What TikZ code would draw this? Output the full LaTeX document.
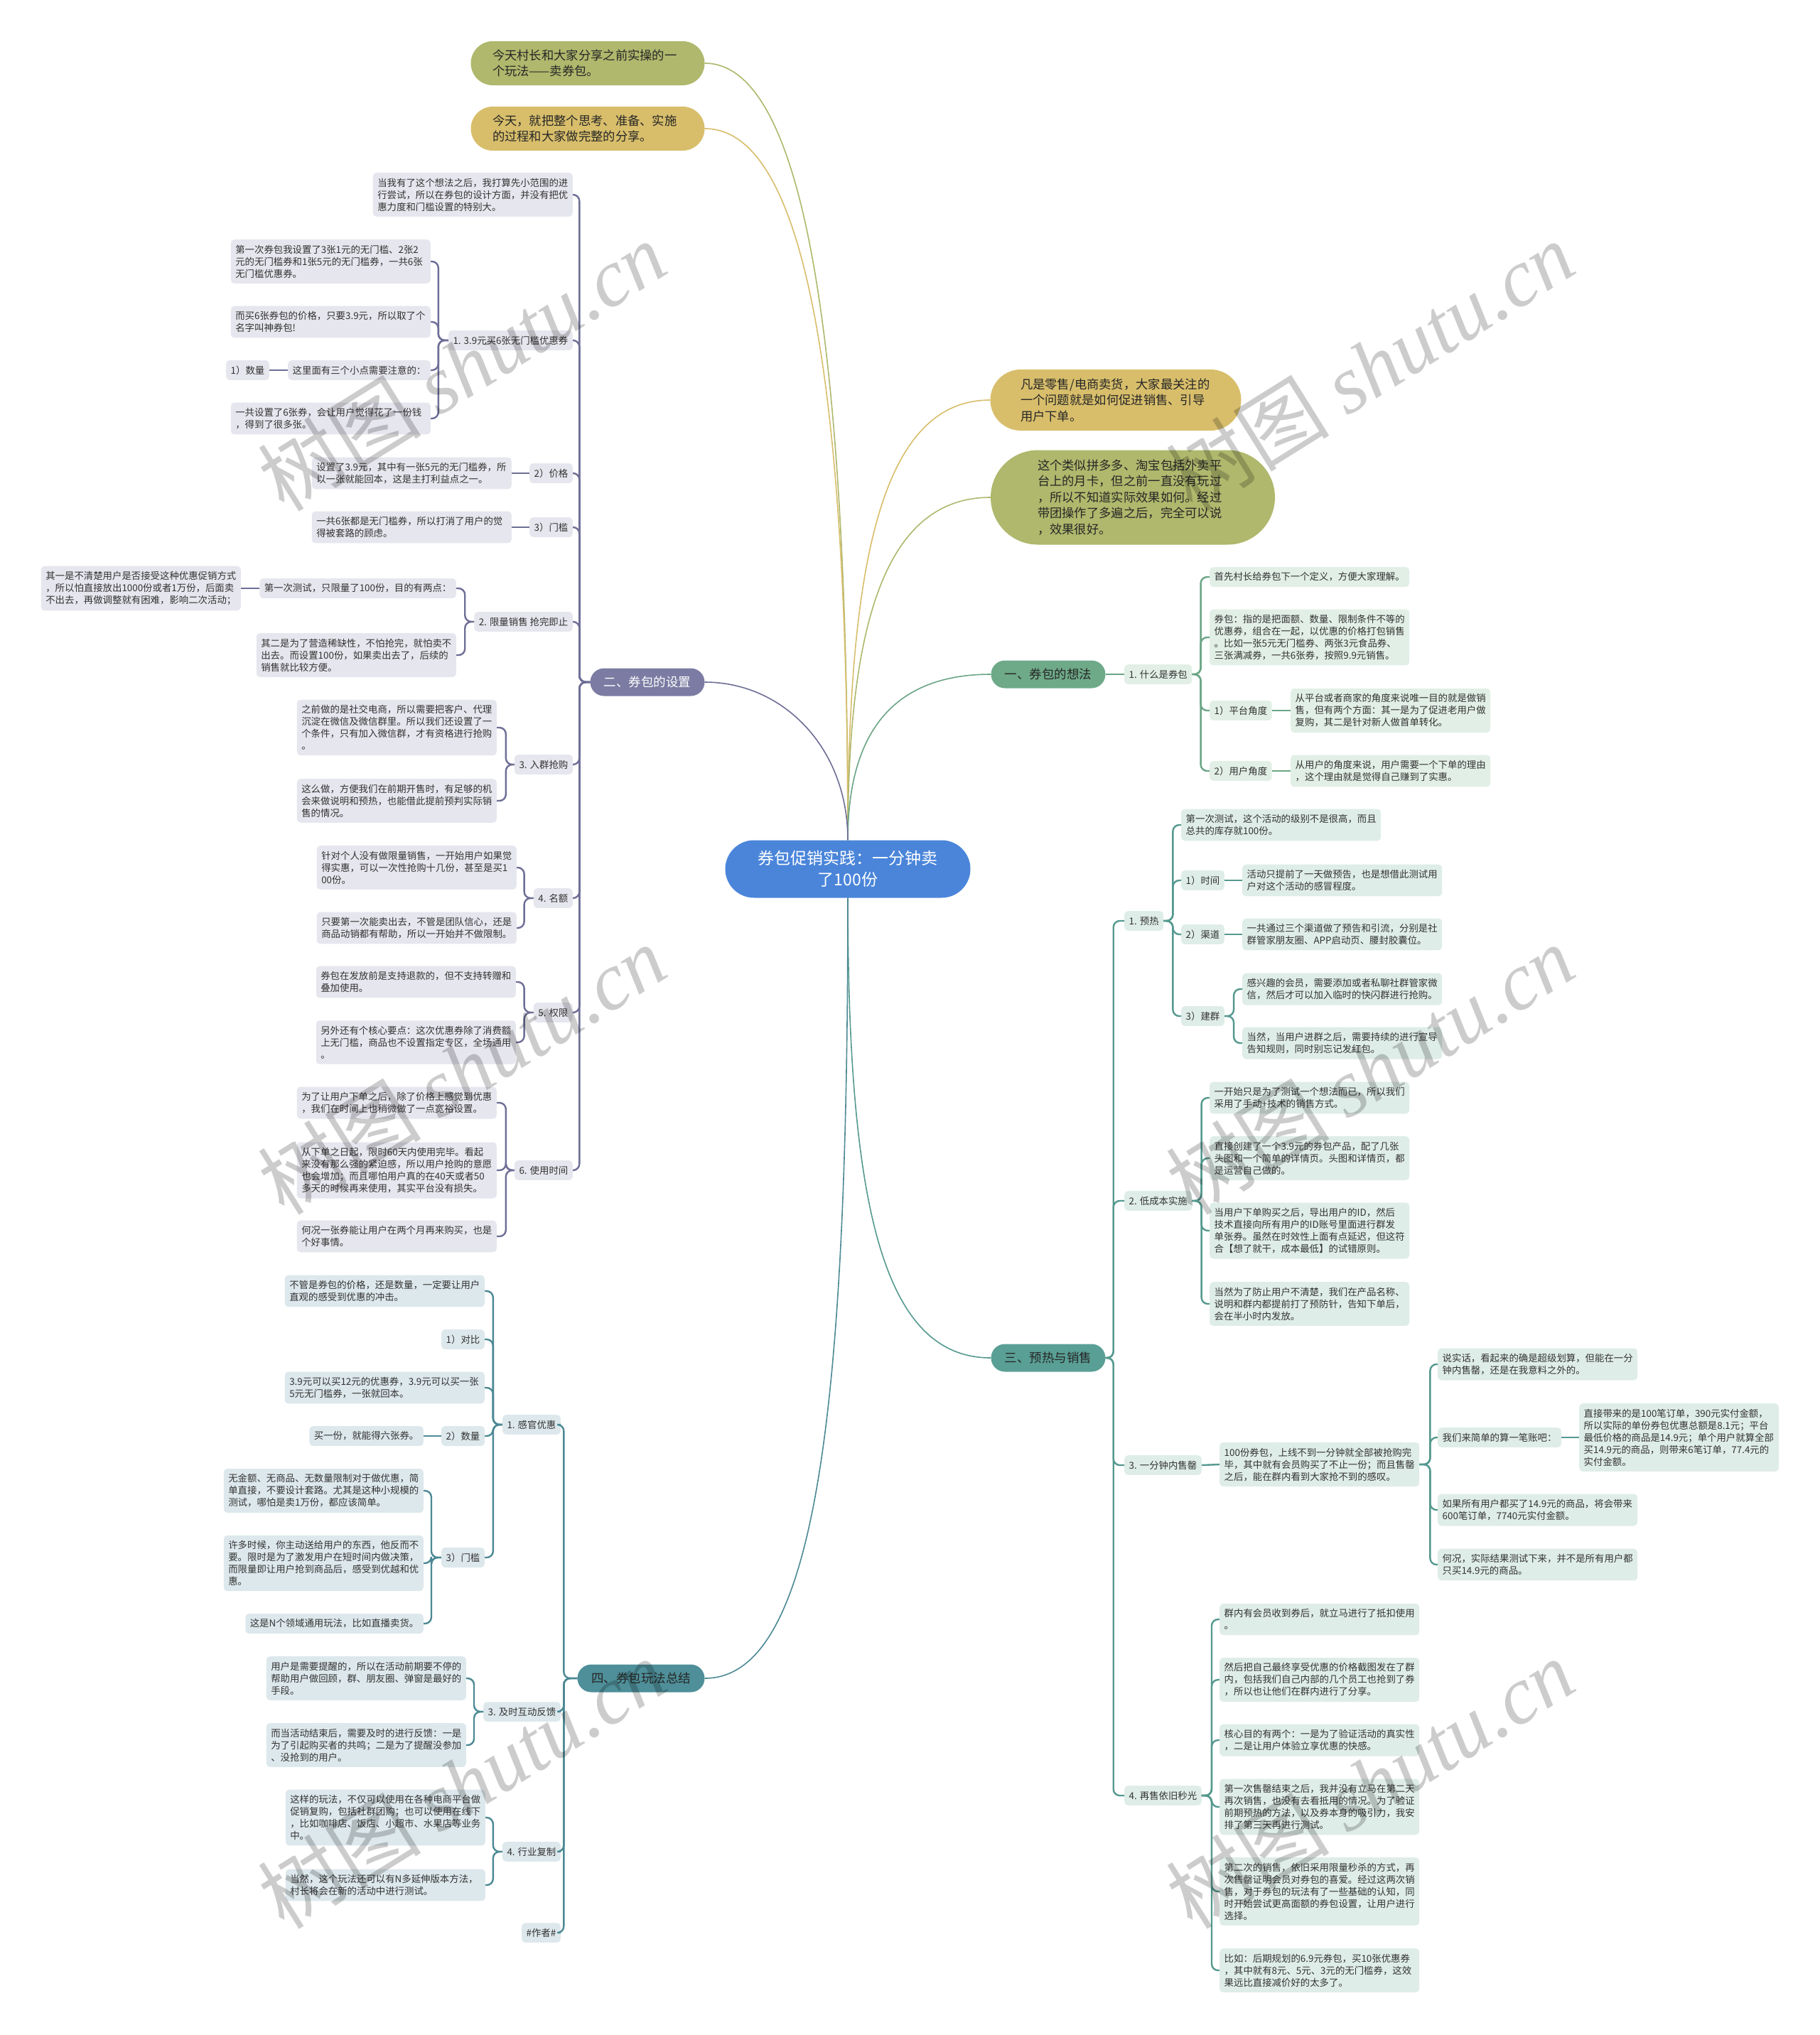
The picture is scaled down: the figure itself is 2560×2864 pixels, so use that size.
\documentclass[tikz,border=0pt]{standalone}
\usepackage{fontspec}
\usepackage{tikz}
\usetikzlibrary{shapes.misc}
\newfontfamily\cjk{Noto Sans CJK SC}
\newfontfamily\wmlatin{Liberation Serif}
\definecolor{cRoot}{HTML}{4A85DA}
\definecolor{cOlive}{HTML}{AFB86C}
\definecolor{cOchre}{HTML}{D8BE6B}
\definecolor{cIdea}{HTML}{6EAA88}
\definecolor{cSet}{HTML}{7B7BA3}
\definecolor{cSale}{HTML}{5A9F95}
\definecolor{cSum}{HTML}{4E8F99}
\definecolor{lIdea}{HTML}{E2EFE7}
\definecolor{lSet}{HTML}{E6E6EE}
\definecolor{lSale}{HTML}{DFEDE9}
\definecolor{lSum}{HTML}{DDE8EC}
\definecolor{dIdea}{HTML}{6AA585}
\definecolor{dSet}{HTML}{6E6E96}
\definecolor{dSale}{HTML}{55998F}
\definecolor{dSum}{HTML}{4C8994}
\tikzset{
  leafnode/.style   = {rounded corners=5pt, inner xsep=6.5pt, inner ysep=7.6pt,
                       font=\cjk\fontsize{13.4}{17}\selectfont, text=black!80},
  textnode/.style   = {leafnode, text width=268pt, align=left},
  bubblenode/.style = {rounded rectangle, inner xsep=1pt, text width=268pt, align=left,
                       font=\cjk\fontsize{17.3}{22.5}\selectfont, text=black!85},
  mainnode/.style   = {rounded rectangle, inner xsep=0pt, minimum height=39pt,
                       minimum width=161pt,
                       font=\cjk\fontsize{17.5}{20}\selectfont, text=black!85},
  rootnode/.style   = {rounded rectangle, fill=cRoot, inner xsep=9.5pt, minimum height=81pt,
                       minimum width=364pt, text width=253pt, align=center, text=white,
                       font=\cjk\fontsize{23}{30}\selectfont},
  wmnode/.style     = {rotate=32, text=black, text opacity=0.2,
                       font=\cjk\fontsize{115}{115}\selectfont},
  curveline/.style  = {line width=1.6pt},
  bracket/.style    = {line width=2.4pt, rounded corners=9pt},
  setbox/.style     = {fill=lSet},
  sumbox/.style     = {fill=lSum},
  ideabox/.style    = {fill=lIdea},
  salebox/.style    = {fill=lSale},
}
\begin{document}
\begin{tikzpicture}[x=1pt, y=-1pt]
  \fill[white] (0,0) rectangle (2560,2864);
  \useasboundingbox (0,0) rectangle (2560,2864);

  % centre and first level
  \node[rootnode] (root) at (1193,1223) {券包促销实践：一分钟卖\\了100份};
  \node[bubblenode, fill=cOlive, minimum height=62pt, minimum width=331pt] (t1) at (827,89)
    {今天村长和大家分享之前实操的一\\个玩法——卖券包。};
  \node[bubblenode, fill=cOchre, minimum height=62pt, minimum width=331pt] (t2) at (827,181)
    {今天，就把整个思考、准备、实施\\的过程和大家做完整的分享。};
  \node[bubblenode, fill=cOchre, minimum height=86pt, minimum width=355pt] (r1) at (1570,563)
    {凡是零售/电商卖货，大家最关注的\\一个问题就是如何促进销售、引导\\用户下单。};
  \node[bubblenode, fill=cOlive, minimum height=133pt, minimum width=402pt] (r2) at (1594,700)
    {这个类似拼多多、淘宝包括外卖平\\台上的月卡，但之前一直没有玩过\\，所以不知道实际效果如何。经过\\带团操作了多遍之后，完全可以说\\，效果很好。};
  \node[mainnode, fill=cIdea] (b1) at (1475,949) {一、券包的想法};
  \node[mainnode, fill=cSet, text=white] (b2) at (911,960) {二、券包的设置};
  \node[mainnode, fill=cSale] (b3) at (1475,1911) {三、预热与销售};
  \node[mainnode, fill=cSum, minimum width=179pt] (b4) at (902,2362) {四、券包玩法总结};

  \draw[curveline, cOlive] (root.north) .. controls +(0,-700) and +(140,0) .. (t1.east);
  \draw[curveline, cOchre] (root.north) .. controls +(0,-650) and +(140,0) .. (t2.east);
  \draw[curveline, cOchre] (root.north) .. controls +(0,-400) and +(-150,0) .. (r1.west);
  \draw[curveline, cOlive] (root.north) .. controls +(0,-300) and +(-150,0) .. (r2.west);
  \draw[curveline, dIdea] (root.north) .. controls +(0,-160) and +(-130,0) .. (b1.west);
  \draw[curveline, dSet]  (root.north) .. controls +(0,-130) and +(110,0) .. (b2.east);
  \draw[curveline, dSale] (root.south) .. controls +(0,440) and +(-150,0) .. (b3.west);
  \draw[curveline, dSum]  (root.south) .. controls +(0,700) and +(160,0) .. (b4.east);

  % 二、券包的设置
  \node[textnode, setbox, anchor=east] (p0) at (806,274)
    {当我有了这个想法之后，我打算先小范围的进\\行尝试，所以在券包的设计方面，并没有把优\\惠力度和门槛设置的特别大。};
  \node[leafnode, setbox, anchor=east] (p1) at (806,479) {1. 3.9元买6张无门槛优惠券};
  \node[textnode, setbox, anchor=east] (p1a) at (606,368)
    {第一次券包我设置了3张1元的无门槛、2张2\\元的无门槛券和1张5元的无门槛券，一共6张\\无门槛优惠券。};
  \node[textnode, setbox, anchor=east] (p1b) at (606,453)
    {而买6张券包的价格，只要3.9元，所以取了个\\名字叫神券包!};
  \node[leafnode, setbox, anchor=east] (p1c) at (606,521) {这里面有三个小点需要注意的：};
  \node[leafnode, setbox, anchor=east] (p1c1) at (379,521) {1）数量};
  \node[textnode, setbox, anchor=east] (p1d) at (606,589)
    {一共设置了6张券，会让用户觉得花了一份钱\\，得到了很多张。};
  \node[leafnode, setbox, anchor=east] (p2) at (806,666) {2）价格};
  \node[textnode, setbox, anchor=east] (p2a) at (720,666)
    {设置了3.9元，其中有一张5元的无门槛券，所\\以一张就能回本，这是主打利益点之一。};
  \node[leafnode, setbox, anchor=east] (p3) at (806,742) {3）门槛};
  \node[textnode, setbox, anchor=east] (p3a) at (720,742)
    {一共6张都是无门槛券，所以打消了用户的觉\\得被套路的顾虑。};
  \node[leafnode, setbox, anchor=east] (p4) at (806,875) {2. 限量销售 抢完即止};
  \node[leafnode, setbox, anchor=east] (p4a) at (642,828) {第一次测试，只限量了100份，目的有两点：};
  \node[textnode, setbox, anchor=east] (p4a1) at (339,828)
    {其一是不清楚用户是否接受这种优惠促销方式\\，所以怕直接放出1000份或者1万份，后面卖\\不出去，再做调整就有困难，影响二次活动；};
  \node[textnode, setbox, anchor=east] (p4b) at (642,922)
    {其二是为了营造稀缺性，不怕抢完，就怕卖不\\出去。而设置100份，如果卖出去了，后续的\\销售就比较方便。};
  \node[leafnode, setbox, anchor=east] (p5) at (806,1076) {3. 入群抢购};
  \node[textnode, setbox, anchor=east] (p5a) at (699,1024)
    {之前做的是社交电商，所以需要把客户、代理\\沉淀在微信及微信群里。所以我们还设置了一\\个条件，只有加入微信群，才有资格进行抢购\\。};
  \node[textnode, setbox, anchor=east] (p5b) at (699,1127)
    {这么做，方便我们在前期开售时，有足够的机\\会来做说明和预热，也能借此提前预判实际销\\售的情况。};
  \node[leafnode, setbox, anchor=east] (p6) at (806,1264) {4. 名额};
  \node[textnode, setbox, anchor=east] (p6a) at (727,1221)
    {针对个人没有做限量销售，一开始用户如果觉\\得实惠，可以一次性抢购十几份，甚至是买1\\00份。};
  \node[textnode, setbox, anchor=east] (p6b) at (727,1306)
    {只要第一次能卖出去，不管是团队信心，还是\\商品动销都有帮助，所以一开始并不做限制。};
  \node[leafnode, setbox, anchor=east] (p7) at (806,1425) {5. 权限};
  \node[textnode, setbox, anchor=east] (p7a) at (726,1382)
    {券包在发放前是支持退款的，但不支持转赠和\\叠加使用。};
  \node[textnode, setbox, anchor=east] (p7b) at (726,1467)
    {另外还有个核心要点：这次优惠券除了消费额\\上无门槛，商品也不设置指定专区，全场通用\\。};
  \node[leafnode, setbox, anchor=east] (p8) at (806,1647) {6. 使用时间};
  \node[textnode, setbox, anchor=east] (p8a) at (699,1552)
    {为了让用户下单之后，除了价格上感觉到优惠\\，我们在时间上也稍微做了一点宽裕设置。};
  \node[textnode, setbox, anchor=east] (p8b) at (699,1647)
    {从下单之日起，限时60天内使用完毕。看起\\来没有那么强的紧迫感，所以用户抢购的意愿\\也会增加；而且哪怕用户真的在40天或者50\\多天的时候再来使用，其实平台没有损失。};
  \node[textnode, setbox, anchor=east] (p8c) at (699,1740)
    {何况一张券能让用户在两个月再来购买，也是\\个好事情。};

  \draw[bracket, dSet] (b2.west) -- ++(-15,0) |- (p0.east);
  \draw[bracket, dSet] (b2.west) -- ++(-15,0) |- (p1.east);
  \draw[bracket, dSet] (b2.west) -- ++(-15,0) |- (p2.east);
  \draw[bracket, dSet] (b2.west) -- ++(-15,0) |- (p3.east);
  \draw[bracket, dSet] (b2.west) -- ++(-15,0) |- (p4.east);
  \draw[bracket, dSet] (b2.west) -- ++(-15,0) |- (p5.east);
  \draw[bracket, dSet] (b2.west) -- ++(-15,0) |- (p6.east);
  \draw[bracket, dSet] (b2.west) -- ++(-15,0) |- (p7.east);
  \draw[bracket, dSet] (b2.west) -- ++(-15,0) |- (p8.east);
  \draw[bracket, dSet] (p1.west) -- ++(-14,0) |- (p1a.east);
  \draw[bracket, dSet] (p1.west) -- ++(-14,0) |- (p1b.east);
  \draw[bracket, dSet] (p1.west) -- ++(-14,0) |- (p1c.east);
  \draw[bracket, dSet] (p1.west) -- ++(-14,0) |- (p1d.east);
  \draw[bracket, dSet] (p1c.west) -- (p1c1.east);
  \draw[bracket, dSet] (p2.west) -- (p2a.east);
  \draw[bracket, dSet] (p3.west) -- (p3a.east);
  \draw[bracket, dSet] (p4.west) -- ++(-13,0) |- (p4a.east);
  \draw[bracket, dSet] (p4.west) -- ++(-13,0) |- (p4b.east);
  \draw[bracket, dSet] (p4a.west) -- (p4a1.east);
  \draw[bracket, dSet] (p5.west) -- ++(-12,0) |- (p5a.east);
  \draw[bracket, dSet] (p5.west) -- ++(-12,0) |- (p5b.east);
  \draw[bracket, dSet] (p6.west) -- ++(-13,0) |- (p6a.east);
  \draw[bracket, dSet] (p6.west) -- ++(-13,0) |- (p6b.east);
  \draw[bracket, dSet] (p7.west) -- ++(-13,0) |- (p7a.east);
  \draw[bracket, dSet] (p7.west) -- ++(-13,0) |- (p7b.east);
  \draw[bracket, dSet] (p8.west) -- ++(-12,0) |- (p8a.east);
  \draw[bracket, dSet] (p8.west) -- ++(-12,0) |- (p8b.east);
  \draw[bracket, dSet] (p8.west) -- ++(-12,0) |- (p8c.east);

  % 四、券包玩法总结
  \node[leafnode, sumbox, anchor=east] (q1) at (789,2005) {1. 感官优惠};
  \node[textnode, sumbox, anchor=east] (q1a) at (682,1817)
    {不管是券包的价格，还是数量，一定要让用户\\直观的感受到优惠的冲击。};
  \node[leafnode, sumbox, anchor=east] (q1b) at (682,1885) {1）对比};
  \node[textnode, sumbox, anchor=east] (q1c) at (682,1953)
    {3.9元可以买12元的优惠券，3.9元可以买一张\\5元无门槛券，一张就回本。};
  \node[leafnode, sumbox, anchor=east] (q1d) at (682,2021) {2）数量};
  \node[leafnode, sumbox, anchor=east] (q1d1) at (596,2021) {买一份，就能得六张券。};
  \node[leafnode, sumbox, anchor=east] (q1e) at (682,2192) {3）门槛};
  \node[textnode, sumbox, anchor=east] (q1e1) at (596,2098)
    {无金额、无商品、无数量限制对于做优惠，简\\单直接，不要设计套路。尤其是这种小规模的\\测试，哪怕是卖1万份，都应该简单。};
  \node[textnode, sumbox, anchor=east] (q1e2) at (596,2200)
    {许多时候，你主动送给用户的东西，他反而不\\要。限时是为了激发用户在短时间内做决策，\\而限量即让用户抢到商品后，感受到优越和优\\惠。};
  \node[leafnode, sumbox, anchor=east] (q1e3) at (596,2285) {这是N个领域通用玩法，比如直播卖货。};
  \node[leafnode, sumbox, anchor=east] (q2) at (789,2409) {3. 及时互动反馈};
  \node[textnode, sumbox, anchor=east] (q2a) at (656,2362)
    {用户是需要提醒的，所以在活动前期要不停的\\帮助用户做回顾，群、朋友圈、弹窗是最好的\\手段。};
  \node[textnode, sumbox, anchor=east] (q2b) at (656,2456)
    {而当活动结束后，需要及时的进行反馈：一是\\为了引起购买者的共鸣；二是为了提醒没参加\\、没抢到的用户。};
  \node[leafnode, sumbox, anchor=east] (q3) at (789,2606) {4. 行业复制};
  \node[textnode, sumbox, anchor=east] (q3a) at (683,2558)
    {这样的玩法，不仅可以使用在各种电商平台做\\促销复购，包括社群团购；也可以使用在线下\\，比如咖啡店、饭店、小超市、水果店等业务\\中。};
  \node[textnode, sumbox, anchor=east] (q3b) at (683,2653)
    {当然，这个玩法还可以有N多延伸版本方法，\\村长将会在新的活动中进行测试。};
  \node[leafnode, sumbox, anchor=east] (q4) at (789,2720) {\#作者\#};

  \draw[bracket, dSum] (b4.west) -- ++(-19,0) |- (q1.east);
  \draw[bracket, dSum] (b4.west) -- ++(-19,0) |- (q2.east);
  \draw[bracket, dSum] (b4.west) -- ++(-19,0) |- (q3.east);
  \draw[bracket, dSum] (b4.west) -- ++(-19,0) |- (q4.east);
  \draw[bracket, dSum] (q1.west) -- ++(-13,0) |- (q1a.east);
  \draw[bracket, dSum] (q1.west) -- ++(-13,0) |- (q1b.east);
  \draw[bracket, dSum] (q1.west) -- ++(-13,0) |- (q1c.east);
  \draw[bracket, dSum] (q1.west) -- ++(-13,0) |- (q1d.east);
  \draw[bracket, dSum] (q1.west) -- ++(-13,0) |- (q1e.east);
  \draw[bracket, dSum] (q1d.west) -- (q1d1.east);
  \draw[bracket, dSum] (q1e.west) -- ++(-14,0) |- (q1e1.east);
  \draw[bracket, dSum] (q1e.west) -- ++(-14,0) |- (q1e2.east);
  \draw[bracket, dSum] (q1e.west) -- ++(-14,0) |- (q1e3.east);
  \draw[bracket, dSum] (q2.west) -- ++(-13,0) |- (q2a.east);
  \draw[bracket, dSum] (q2.west) -- ++(-13,0) |- (q2b.east);
  \draw[bracket, dSum] (q3.west) -- ++(-13,0) |- (q3a.east);
  \draw[bracket, dSum] (q3.west) -- ++(-13,0) |- (q3b.east);

  % 一、券包的想法
  \node[leafnode, ideabox, anchor=west] (s1) at (1582,949) {1. 什么是券包};
  \node[textnode, ideabox, anchor=west] (s1a) at (1702,812) {首先村长给券包下一个定义，方便大家理解。};
  \node[textnode, ideabox, anchor=west] (s1b) at (1702,897)
    {券包：指的是把面额、数量、限制条件不等的\\优惠券，组合在一起，以优惠的价格打包销售\\。比如一张5元无门槛券、两张3元食品券、\\三张满减券，一共6张券，按照9.9元销售。};
  \node[leafnode, ideabox, anchor=west] (s1c) at (1702,1000) {1）平台角度};
  \node[textnode, ideabox, anchor=west] (s1c1) at (1816,1000)
    {从平台或者商家的角度来说唯一目的就是做销\\售，但有两个方面：其一是为了促进老用户做\\复购，其二是针对新人做首单转化。};
  \node[leafnode, ideabox, anchor=west] (s1d) at (1702,1085) {2）用户角度};
  \node[textnode, ideabox, anchor=west] (s1d1) at (1816,1085)
    {从用户的角度来说，用户需要一个下单的理由\\，这个理由就是觉得自己赚到了实惠。};

  \draw[bracket, dIdea] (b1.east) -- (s1.west);
  \draw[bracket, dIdea] (s1.east) -- ++(12,0) |- (s1a.west);
  \draw[bracket, dIdea] (s1.east) -- ++(12,0) |- (s1b.west);
  \draw[bracket, dIdea] (s1.east) -- ++(12,0) |- (s1c.west);
  \draw[bracket, dIdea] (s1.east) -- ++(12,0) |- (s1d.west);
  \draw[bracket, dIdea] (s1c.east) -- (s1c1.west);
  \draw[bracket, dIdea] (s1d.east) -- (s1d1.west);

  % 三、预热与销售
  \node[leafnode, salebox, anchor=west] (u1) at (1582,1296) {1. 预热};
  \node[textnode, salebox, anchor=west] (u1a) at (1662,1161)
    {第一次测试，这个活动的级别不是很高，而且\\总共的库存就100份。};
  \node[leafnode, salebox, anchor=west] (u1b) at (1662,1239) {1）时间};
  \node[textnode, salebox, anchor=west] (u1b1) at (1748,1239)
    {活动只提前了一天做预告，也是想借此测试用\\户对这个活动的感冒程度。};
  \node[leafnode, salebox, anchor=west] (u1c) at (1662,1315) {2）渠道};
  \node[textnode, salebox, anchor=west] (u1c1) at (1748,1315)
    {一共通过三个渠道做了预告和引流，分别是社\\群管家朋友圈、APP启动页、腰封胶囊位。};
  \node[leafnode, salebox, anchor=west] (u1d) at (1662,1430) {3）建群};
  \node[textnode, salebox, anchor=west] (u1d1) at (1748,1392)
    {感兴趣的会员，需要添加或者私聊社群管家微\\信，然后才可以加入临时的快闪群进行抢购。};
  \node[textnode, salebox, anchor=west] (u1d2) at (1748,1468)
    {当然，当用户进群之后，需要持续的进行宣导\\告知规则，同时别忘记发红包。};
  \node[leafnode, salebox, anchor=west] (u2) at (1582,1690) {2. 低成本实施};
  \node[textnode, salebox, anchor=west] (u2a) at (1702,1545)
    {一开始只是为了测试一个想法而已，所以我们\\采用了手动+技术的销售方式。};
  \node[textnode, salebox, anchor=west] (u2b) at (1702,1630)
    {直接创建了一个3.9元的券包产品，配了几张\\头图和一个简单的详情页。头图和详情页，都\\是运营自己做的。};
  \node[textnode, salebox, anchor=west] (u2c) at (1702,1732)
    {当用户下单购买之后，导出用户的ID，然后\\技术直接向所有用户的ID账号里面进行群发\\单张券。虽然在时效性上面有点延迟，但这符\\合【想了就干，成本最低】的试错原则。};
  \node[textnode, salebox, anchor=west] (u2d) at (1702,1835)
    {当然为了防止用户不清楚，我们在产品名称、\\说明和群内都提前打了预防针，告知下单后，\\会在半小时内发放。};
  \node[leafnode, salebox, anchor=west] (u3) at (1582,2062) {3. 一分钟内售罄};
  \node[textnode, salebox, anchor=west] (u3x) at (1716,2061)
    {100份券包，上线不到一分钟就全部被抢购完\\毕，其中就有会员购买了不止一份；而且售罄\\之后，能在群内看到大家抢不到的感叹。};
  \node[textnode, salebox, anchor=west] (u3a) at (2023,1920)
    {说实话，看起来的确是超级划算，但能在一分\\钟内售罄，还是在我意料之外的。};
  \node[leafnode, salebox, anchor=west] (u3b) at (2023,2023) {我们来简单的算一笔账吧：};
  \node[textnode, salebox, anchor=west] (u3b1) at (2222,2023)
    {直接带来的是100笔订单，390元实付金额，\\所以实际的单份券包优惠总额是8.1元；平台\\最低价格的商品是14.9元；单个用户就算全部\\买14.9元的商品，则带来6笔订单，77.4元的\\实付金额。};
  \node[textnode, salebox, anchor=west] (u3c) at (2023,2125)
    {如果所有用户都买了14.9元的商品，将会带来\\600笔订单，7740元实付金额。};
  \node[textnode, salebox, anchor=west] (u3d) at (2023,2202)
    {何况，实际结果测试下来，并不是所有用户都\\只买14.9元的商品。};
  \node[leafnode, salebox, anchor=west] (u4) at (1582,2527) {4. 再售依旧秒光};
  \node[textnode, salebox, anchor=west] (u4a) at (1716,2279)
    {群内有会员收到券后，就立马进行了抵扣使用\\。};
  \node[textnode, salebox, anchor=west] (u4b) at (1716,2364)
    {然后把自己最终享受优惠的价格截图发在了群\\内，包括我们自己内部的几个员工也抢到了券\\，所以也让他们在群内进行了分享。};
  \node[textnode, salebox, anchor=west] (u4c) at (1716,2449)
    {核心目的有两个：一是为了验证活动的真实性\\，二是让用户体验立享优惠的快感。};
  \node[textnode, salebox, anchor=west] (u4d) at (1716,2543)
    {第一次售罄结束之后，我并没有立马在第二天\\再次销售，也没有去看抵用的情况。为了验证\\前期预热的方法，以及券本身的吸引力，我安\\排了第三天再进行测试。};
  \node[textnode, salebox, anchor=west] (u4e) at (1716,2662)
    {第二次的销售，依旧采用限量秒杀的方式，再\\次售罄证明会员对券包的喜爱。经过这两次销\\售，对于券包的玩法有了一些基础的认知，同\\时开始尝试更高面额的券包设置，让用户进行\\选择。};
  \node[textnode, salebox, anchor=west] (u4f) at (1716,2773)
    {比如：后期规划的6.9元券包，买10张优惠券\\，其中就有8元、5元、3元的无门槛券，这效\\果远比直接减价好的太多了。};

  \draw[bracket, dSale] (b3.east) -- ++(11,0) |- (u1.west);
  \draw[bracket, dSale] (b3.east) -- ++(11,0) |- (u2.west);
  \draw[bracket, dSale] (b3.east) -- ++(11,0) |- (u3.west);
  \draw[bracket, dSale] (b3.east) -- ++(11,0) |- (u4.west);
  \draw[bracket, dSale] (u1.east) -- ++(13,0) |- (u1a.west);
  \draw[bracket, dSale] (u1.east) -- ++(13,0) |- (u1b.west);
  \draw[bracket, dSale] (u1.east) -- ++(13,0) |- (u1c.west);
  \draw[bracket, dSale] (u1.east) -- ++(13,0) |- (u1d.west);
  \draw[bracket, dSale] (u1b.east) -- (u1b1.west);
  \draw[bracket, dSale] (u1c.east) -- (u1c1.west);
  \draw[bracket, dSale] (u1d.east) -- ++(13,0) |- (u1d1.west);
  \draw[bracket, dSale] (u1d.east) -- ++(13,0) |- (u1d2.west);
  \draw[bracket, dSale] (u2.east) -- ++(13,0) |- (u2a.west);
  \draw[bracket, dSale] (u2.east) -- ++(13,0) |- (u2b.west);
  \draw[bracket, dSale] (u2.east) -- ++(13,0) |- (u2c.west);
  \draw[bracket, dSale] (u2.east) -- ++(13,0) |- (u2d.west);
  \draw[bracket, dSale] (u3.east) -- (u3x.west);
  \draw[bracket, dSale] (u3x.east) -- ++(15,0) |- (u3a.west);
  \draw[bracket, dSale] (u3x.east) -- ++(15,0) |- (u3b.west);
  \draw[bracket, dSale] (u3x.east) -- ++(15,0) |- (u3c.west);
  \draw[bracket, dSale] (u3x.east) -- ++(15,0) |- (u3d.west);
  \draw[bracket, dSale] (u3b.east) -- (u3b1.west);
  \draw[bracket, dSale] (u4.east) -- ++(14,0) |- (u4a.west);
  \draw[bracket, dSale] (u4.east) -- ++(14,0) |- (u4b.west);
  \draw[bracket, dSale] (u4.east) -- ++(14,0) |- (u4c.west);
  \draw[bracket, dSale] (u4.east) -- ++(14,0) |- (u4d.west);
  \draw[bracket, dSale] (u4.east) -- ++(14,0) |- (u4e.west);
  \draw[bracket, dSale] (u4.east) -- ++(14,0) |- (u4f.west);

  % watermark
  \node[wmnode] (wm1) at (650,515)  {树图 {\wmlatin\itshape shutu.cn}};
  \node[wmnode] (wm2) at (1928,515) {树图 {\wmlatin\itshape shutu.cn}};
  \node[wmnode] (wm3) at (650,1505) {树图 {\wmlatin\itshape shutu.cn}};
  \node[wmnode] (wm4) at (1928,1505) {树图 {\wmlatin\itshape shutu.cn}};
  \node[wmnode] (wm5) at (650,2510) {树图 {\wmlatin\itshape shutu.cn}};
  \node[wmnode] (wm6) at (1928,2510) {树图 {\wmlatin\itshape shutu.cn}};
\end{tikzpicture}
\end{document}
